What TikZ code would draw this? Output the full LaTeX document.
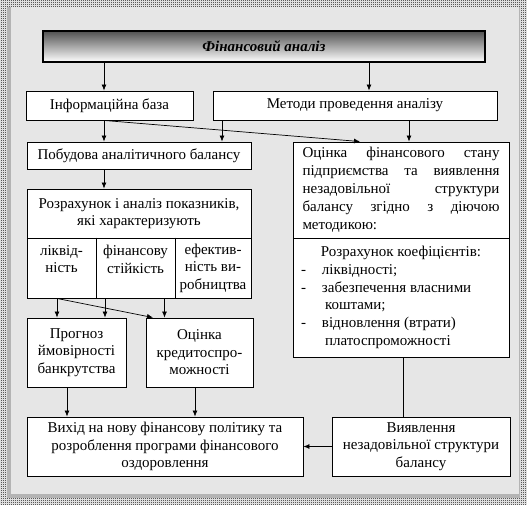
\documentclass[tikz,border=0pt]{standalone}
\usepackage{fontspec}
\setmainfont{Liberation Serif}
\usetikzlibrary{arrows.meta,patterns}
\pgfdeclarepatternformonly{finecheck}{\pgfpointorigin}{\pgfqpoint{2bp}{2bp}}{\pgfqpoint{2bp}{2bp}}{%
 \pgfpathrectangle{\pgfpointorigin}{\pgfqpoint{1bp}{1bp}}%
 \pgfpathrectangle{\pgfqpoint{1bp}{1bp}}{\pgfqpoint{1bp}{1bp}}%
 \pgfusepath{fill}}
\definecolor{bgfill}{HTML}{E6E6E6}
\definecolor{shadowg}{HTML}{B4B4B4}
\begin{document}
\begin{tikzpicture}[x=1bp,y=-1bp,
 txt/.style={font=\fontsize{15bp}{17.5bp}\selectfont},
 box/.style={draw, line width=0.9bp, fill=white, inner sep=0pt, align=center, txt},
 arr/.style={-{Latex[length=6bp,width=5bp]}, line width=0.7bp},
 ln/.style={line width=0.7bp},
 divider/.style={line width=1.6bp}]
\useasboundingbox (0,0) rectangle (527,505);
\fill[white] (0,0) rectangle (527,505);
\fill[pattern=finecheck] (0,0) rectangle (527,505);
\fill[shadowg] (7,7) rectangle (520,498);
\fill[bgfill] (11,7) rectangle (519,494);

% title
\node[draw, line width=1.5bp, top color=black!68, middle color=black!12, bottom color=white,
  minimum width=442bp, minimum height=31bp, inner sep=0pt,
  font=\fontsize{15bp}{17.5bp}\selectfont\bfseries\itshape] (title) at (264,46.5) {Фінансовий аналіз};

\node[box, minimum width=167bp, minimum height=29bp] (info) at (109.5,105.5) {Інформаційна база};
\node[box, minimum width=284bp, minimum height=29bp] (meth) at (355,105.5) {Методи проведення аналізу};
\node[box, minimum width=224bp, minimum height=27bp] (pob) at (139,155.5) {Побудова аналітичного балансу};
\node[box, minimum width=224bp, minimum height=49bp] (rozr) at (139,213.5) {Розрахунок і аналіз показників,\\які характеризують};
\node[box, minimum width=69bp, minimum height=60bp] (cell1) at (61.5,268) {ліквід-\\ність\\~};
\node[box, minimum width=79bp, minimum height=60bp] (cell2) at (135.5,268) {фінансову\\стійкість\\~};
\node[box, minimum width=76bp, minimum height=60bp] (cell3) at (213,268) {ефектив-\\ність ви-\\робництва};
\draw[divider] (cell1.north east) -- (cell1.south east);
\draw[divider] (cell2.north east) -- (cell2.south east);

\node[box, minimum width=216bp, minimum height=96bp] (ots) at (401,190) {\parbox{197bp}{\fontsize{15bp}{18bp}\selectfont
\makebox[197bp][s]{Оцінка фінансового стану}\\
\makebox[197bp][s]{підприємства та виявлення}\\
\makebox[197bp][s]{незадовільної структури}\\
\makebox[197bp][s]{балансу згідно з діючою}\\
\makebox[197bp][l]{методикою:}}};
\node[box, minimum width=216bp, minimum height=119bp] (otsb) at (401,297.5) {\parbox{200bp}{\fontsize{15bp}{17.7bp}\selectfont
\makebox[200bp][c]{Розрахунок коефіцієнтів:}\\
\makebox[200bp][l]{\makebox[21bp][l]{-}ліквідності;}\\
\makebox[200bp][l]{\makebox[21bp][l]{-}забезпечення власними}\\
\makebox[200bp][l]{\hspace{24bp}коштами;}\\
\makebox[200bp][l]{\makebox[21bp][l]{-}відновлення (втрати)}\\
\makebox[200bp][l]{\hspace{24bp}платоспроможності}}};

\node[box, minimum width=99bp, minimum height=69bp] (prog) at (76.5,352.5) {Прогноз\\ймовірності\\банкрутства};
\node[box, minimum width=107bp, minimum height=69bp] (kred) at (199.5,352.5) {Оцінка\\кредитоспро-\\можності};
\node[box, minimum width=276bp, minimum height=59bp] (vyh) at (165,446.5) {Вихід на нову фінансову політику та\\розроблення програми фінансового\\оздоровлення};
\node[box, minimum width=178bp, minimum height=59bp] (vyav) at (421,446.5) {Виявлення\\незадовільної структури\\балансу};

% connectors
\draw[arr] ([xshift=-5.5bp]info.north |- title.south) -- ([xshift=-5.5bp]info.north);
\draw[arr] ([xshift=14bp]meth.north |- title.south) -- ([xshift=14bp]meth.north);
\draw[arr] ([xshift=-5.5bp]info.south) -- ([xshift=-5.5bp]info.south |- pob.north);
\draw[arr] ([xshift=-5.5bp]info.south) -- ([xshift=-41bp]ots.north);
\draw[arr] ([xshift=-133bp]meth.south) -- ([xshift=-133bp]meth.south |- pob.north);
\draw[arr] ([xshift=54bp]meth.south) -- ([xshift=54bp]meth.south |- ots.north);
\draw[arr] ([xshift=-35bp]pob.south) -- ([xshift=-35bp]pob.south |- rozr.north);
\draw[arr] ([xshift=-4.5bp]cell1.south) -- ([xshift=-4.5bp]cell1.south |- prog.north);
\draw[arr] ([xshift=-30.5bp]cell2.south) -- ([xshift=-30.5bp]cell2.south |- prog.north);
\draw[arr] ([xshift=-4.5bp]cell1.south) -- ([xshift=-46.5bp]kred.north);
\draw[arr] ([xshift=29bp]cell2.south) -- ([xshift=29bp]cell2.south |- kred.north);
\draw[arr] ([xshift=-9.5bp]prog.south) -- ([xshift=-9.5bp]prog.south |- vyh.north);
\draw[arr] ([xshift=-4.5bp]kred.south) -- ([xshift=-4.5bp]kred.south |- vyh.north);
\draw[ln] ([xshift=2bp]otsb.south) -- ([xshift=2bp]otsb.south |- vyav.north);
\draw[arr] (vyav.west) -- (vyh.east);
\end{tikzpicture}
\end{document}
